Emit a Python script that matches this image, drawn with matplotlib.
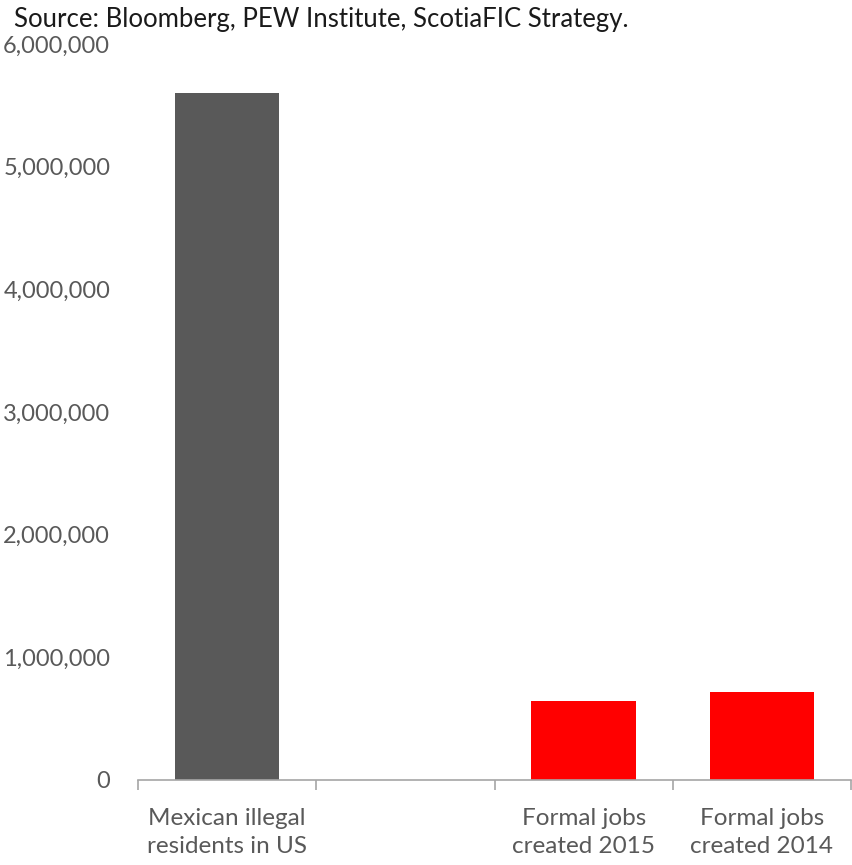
import matplotlib
matplotlib.use("Agg")
import matplotlib.pyplot as plt
from matplotlib.ticker import FuncFormatter, FixedLocator, MultipleLocator

categories = ["Mexican illegal\nresidents in US", "", "Formal jobs\ncreated 2015", "Formal jobs\ncreated 2014"]
values = [5600000, 0, 644000, 714000]
colors = ["#595959", "#595959", "#FF0000", "#FF0000"]
source_text = "Source: Bloomberg, PEW Institute, ScotiaFIC Strategy."

plt.rcParams["font.family"] = ["Lato", "DejaVu Sans"]

fig = plt.figure(figsize=(8.52, 8.65), dpi=100)
ax = fig.add_axes([138 / 852, 85 / 865, 713 / 852, 736 / 865])

x = list(range(len(categories)))
ax.bar(x, values, width=0.585, color=colors)

ax.set_xlim(-0.5, len(categories) - 0.5)
ax.set_ylim(0, 6000000)
ax.yaxis.set_major_locator(MultipleLocator(1000000))
ax.yaxis.set_major_formatter(FuncFormatter(lambda v, p: f"{int(v):,}"))

text_gray = "#595959"
axis_gray = "#A6A6A6"

for s in ["top", "right", "left"]:
    ax.spines[s].set_visible(False)
ax.spines["bottom"].set_color(axis_gray)
ax.spines["bottom"].set_linewidth(1.2)

# category labels centred, tick marks at category boundaries
ax.set_xticks(x)
ax.set_xticklabels(categories, color=text_gray, fontsize=17.5, linespacing=1.45)
ax.tick_params(axis="x", which="major", length=0, pad=20)
ax.xaxis.set_minor_locator(FixedLocator([i - 0.5 for i in range(len(categories) + 1)]))
ax.tick_params(axis="x", which="minor", length=7, width=1.2, color=axis_gray, direction="out")

ax.tick_params(axis="y", length=0, pad=20, labelsize=17, labelcolor=text_gray)

fig.text(14 / 852, 1 - 20 / 865, source_text, fontsize=18.5, color="#1a1a1a",
         ha="left", va="center")

fig.savefig("out.png", dpi=100)
